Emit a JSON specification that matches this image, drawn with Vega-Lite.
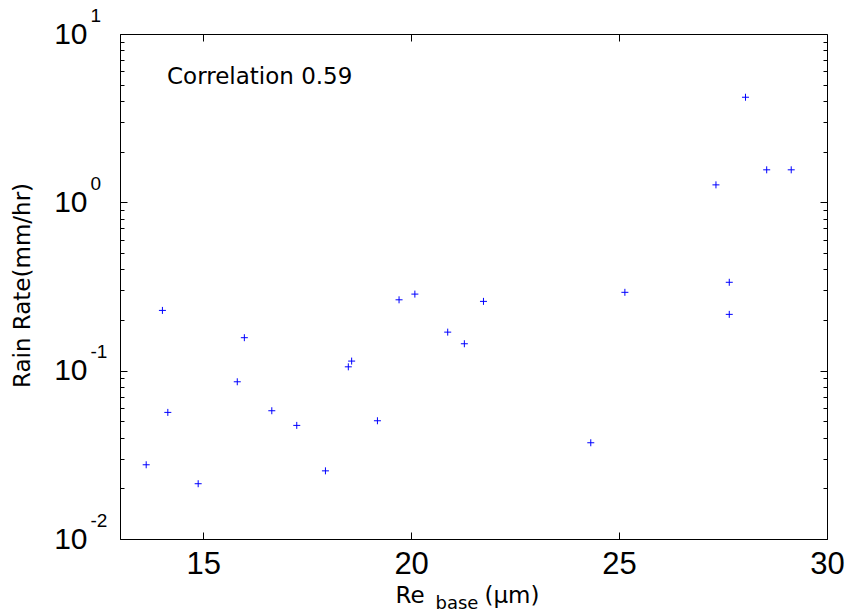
{
  "$schema": "https://vega.github.io/schema/vega-lite/v6.json",
  "width": 707,
  "height": 505,
  "autosize": {"type": "none"},
  "padding": {"left": 120, "top": 34, "right": 19, "bottom": 75},
  "background": "white",
  "config": {
    "view": {"stroke": "black", "strokeWidth": 1},
    "axis": {"domain": false, "grid": false, "tickColor": "black", "tickWidth": 1, "labelColor": "black", "titleColor": "black", "labelFont": "Liberation Sans", "titleFont": "DejaVu Sans", "titleFontWeight": "normal", "labelOverlap": false, "labelFlush": false}
  },
  "data": {"values": [
    {"re": 13.63, "rain": 0.0276},
    {"re": 14.02, "rain": 0.228},
    {"re": 14.15, "rain": 0.0565},
    {"re": 14.88, "rain": 0.0213},
    {"re": 15.82, "rain": 0.0859},
    {"re": 15.99, "rain": 0.157},
    {"re": 16.65, "rain": 0.0578},
    {"re": 17.25, "rain": 0.0473},
    {"re": 17.94, "rain": 0.0254},
    {"re": 18.49, "rain": 0.1054},
    {"re": 18.57, "rain": 0.114},
    {"re": 19.19, "rain": 0.0504},
    {"re": 19.71, "rain": 0.2636},
    {"re": 20.09, "rain": 0.285},
    {"re": 20.88, "rain": 0.1694},
    {"re": 21.28, "rain": 0.1445},
    {"re": 21.74, "rain": 0.258},
    {"re": 24.32, "rain": 0.0373},
    {"re": 25.14, "rain": 0.292},
    {"re": 27.33, "rain": 1.27},
    {"re": 27.65, "rain": 0.335},
    {"re": 27.65, "rain": 0.216},
    {"re": 28.04, "rain": 4.21},
    {"re": 28.55, "rain": 1.56},
    {"re": 29.14, "rain": 1.56}
  ]},
  "layer": [
    {
      "mark": {"type": "point", "shape": "M-1,0H1M0,-1V1", "filled": false, "stroke": "#0000ff", "strokeWidth": 1, "size": 49, "opacity": 1},
      "encoding": {
        "x": {"field": "re", "type": "quantitative", "scale": {"domain": [13, 30], "nice": false, "zero": false},
          "axis": {"orient": "bottom", "values": [15, 20, 25, 30], "tickSize": -7, "labelPadding": 17, "labelFontSize": 31,
            "title": "Re", "titleFontSize": 23, "titleX": 275, "titleY": 63, "titleAlign": "left", "titleBaseline": "alphabetic"}},
        "y": {"field": "rain", "type": "quantitative", "scale": {"type": "log", "domain": [0.01, 10], "nice": false},
          "axis": {"orient": "left", "values": [0.01, 0.1, 1, 10], "tickSize": -7, "labelPadding": 40, "labelFontSize": 30, "labelExpr": "'10'", "labelAlign": "right", "labelBaseline": "middle",
            "title": "Rain Rate(mm/hr)", "titleFontSize": 23, "titleAngle": 270, "titleX": -91, "titleY": 251, "titleAlign": "center", "titleBaseline": "alphabetic"}}
      }
    },
    {
      "mark": {"type": "point", "opacity": 0},
      "encoding": {
        "x": {"field": "re", "type": "quantitative", "axis": {"orient": "top", "values": [15, 20, 25], "tickSize": -7, "labels": false, "title": null}},
        "y": {"field": "rain", "type": "quantitative", "axis": {"orient": "right", "values": [0.01, 0.1, 1, 10], "tickSize": -7, "labels": false, "title": null}}
      }
    },
    {
      "mark": {"type": "point", "opacity": 0},
      "encoding": {
        "x": {"field": "re", "type": "quantitative", "axis": {"orient": "bottom", "labels": false, "ticks": false, "title": "base", "titleFontSize": 18, "titleX": 315, "titleY": 69, "titleAlign": "left", "titleBaseline": "alphabetic"}},
        "y": {"field": "rain", "type": "quantitative", "axis": {"orient": "left", "values": [0.01, 0.02, 0.03, 0.04, 0.05, 0.06, 0.07, 0.08, 0.09, 0.1, 0.2, 0.3, 0.4, 0.5, 0.6, 0.7, 0.8, 0.9, 1, 2, 3, 4, 5, 6, 7, 8, 9, 10], "tickSize": -4,
          "labelExpr": "(abs(log(datum.value)/LN10 - round(log(datum.value)/LN10)) < 0.01) ? ('' + round(log(datum.value)/LN10)) : ''",
          "labelFontSize": 19, "labelAlign": "left", "labelBaseline": "middle", "labelPadding": 34, "labelOffset": -19, "title": null}}
      }
    },
    {
      "mark": {"type": "point", "opacity": 0},
      "encoding": {
        "x": {"field": "re", "type": "quantitative", "axis": {"orient": "bottom", "labels": false, "ticks": false, "title": "(μm)", "titleFontSize": 23, "titleX": 364, "titleY": 63, "titleAlign": "left", "titleBaseline": "alphabetic"}},
        "y": {"field": "rain", "type": "quantitative", "axis": {"orient": "right", "values": [0.02, 0.03, 0.04, 0.05, 0.06, 0.07, 0.08, 0.09, 0.2, 0.3, 0.4, 0.5, 0.6, 0.7, 0.8, 0.9, 2, 3, 4, 5, 6, 7, 8, 9], "tickSize": -4, "labels": false, "title": null}}
      }
    },
    {
      "data": {"values": [{"label": "Correlation 0.59"}]},
      "mark": {"type": "text", "align": "left", "baseline": "alphabetic", "font": "DejaVu Sans", "fontSize": 23, "color": "black"},
      "encoding": {
        "x": {"datum": 14.13, "type": "quantitative", "axis": null},
        "y": {"datum": 5.05, "type": "quantitative", "axis": null},
        "text": {"field": "label"}
      }
    }
  ],
  "resolve": {"axis": {"x": "independent", "y": "independent"}}
}
